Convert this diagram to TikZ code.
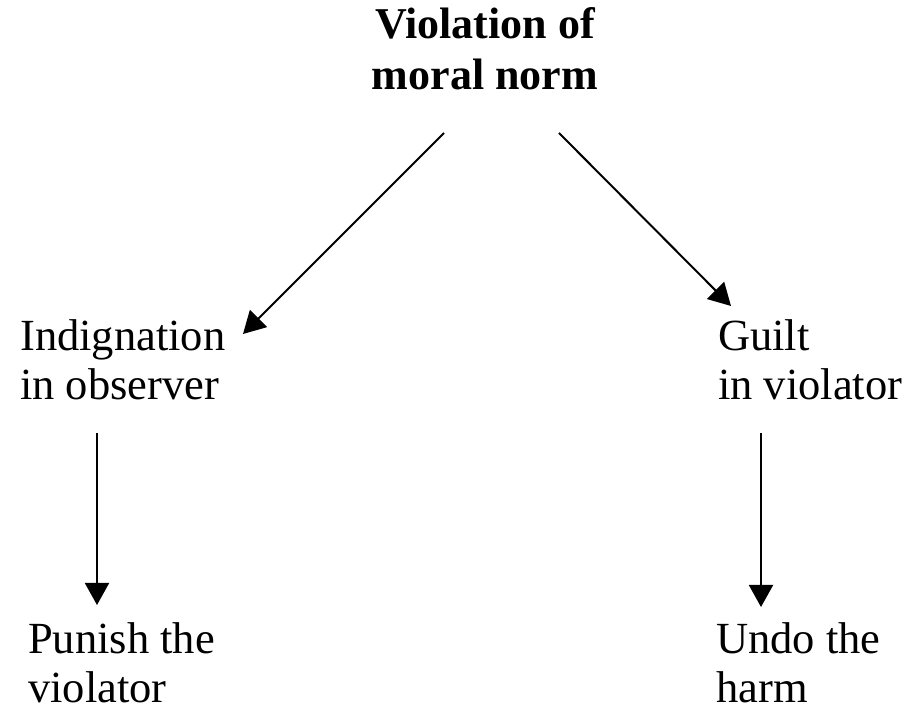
\documentclass[tikz,border=0pt]{standalone}
\usepackage{fontspec}
\setmainfont{Liberation Serif}
\usetikzlibrary{arrows.meta,calc}
\begin{document}
\begin{tikzpicture}[x=1pt,y=1pt,
  lbl/.style={inner sep=0pt,align=left,font=\fontsize{44.5}{49}\selectfont,anchor=base west},
  ttl/.style={inner sep=0pt,align=center,font=\fontsize{44}{51}\selectfont\bfseries,anchor=base},
  arr/.style={line width=2pt,-{Triangle[length=22pt,width=24pt]}}]
\useasboundingbox (0,0) rectangle (910,708);
% base anchors of multi-line nodes lie on the last line's baseline
\node[ttl] (title) at (485,618) {Violation of\\moral norm};
\node[lbl] (ind) at (20,308) {Indignation\\in observer};
\node[lbl] (gui) at (718,308) {Guilt\\in violator};
\node[lbl] (pun) at (28,5) {Punish the\\violator};
\node[lbl] (und) at (716,5) {Undo the\\harm};
\draw[arr] ($(title.base)+(-41,-43)$) -- ($(ind.base west)+(223,66)$);
\draw[arr] ($(title.base)+(74,-43)$) -- ($(gui.base west)+(13,94)$);
\draw[arr] ($(ind.base west)+(77,-33)$) -- ($(pun.base west)+(69,98)$);
\draw[arr] ($(gui.base west)+(43,-33)$) -- ($(und.base west)+(45,96)$);
\end{tikzpicture}
\end{document}
